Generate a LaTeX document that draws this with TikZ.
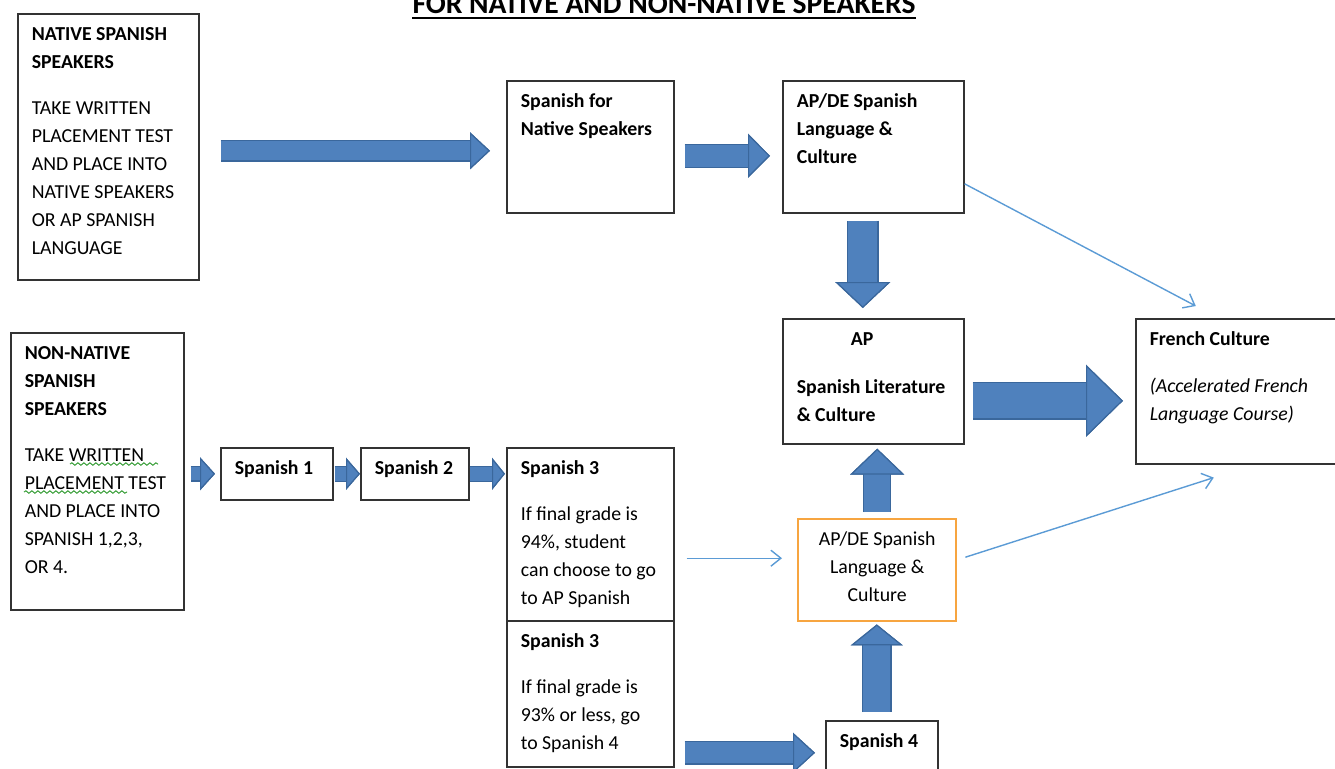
\documentclass[tikz,border=0pt]{standalone}
\usepackage{fontspec}
\setmainfont{Carlito}
\usetikzlibrary{arrows.meta,calc,decorations.pathmorphing}

\definecolor{arrfill}{HTML}{4F81BD}
\definecolor{arredge}{HTML}{3A679C}
\definecolor{thinblue}{HTML}{5B9BD5}
\definecolor{apricot}{HTML}{F7A540}
\definecolor{boxline}{HTML}{333333}
\definecolor{spellgreen}{HTML}{3CA03C}

% text of a box, top aligned: [column]{width}{height}{lines}
\newcommand{\boxtxt}[4][l]{\parbox[t][#3][t]{#2}{\ifx c#1\centering\fi\begin{tabular}[t]{@{}#1@{}}#4\end{tabular}}}

\begin{document}
\begin{tikzpicture}[
    x=0.5pt, y=-0.5pt,
    box/.style={draw=boxline, line width=0.8pt, anchor=north west, inner xsep=7pt, inner ysep=3.5pt, font=\fontsize{9.9}{14}\selectfont},
    hot/.style={box, draw=apricot, line width=1.2pt},
    heading/.style={anchor=base, inner sep=0pt, font=\bfseries\fontsize{14.8}{17}\selectfont},
    blk/.style n args={3}{draw=arrfill, line width=#1, -{Triangle[width=#2, length=#3, line width=0.6pt, color=arredge, fill=arrfill]},
        preaction={draw=arredge, line width=#1+1.2pt, -{Triangle[width=#2, length=#3, line width=0.6pt, color=arredge, fill=arrfill]}}},
    thin/.style={draw=thinblue, line width=0.7pt, -{Straight Barb[length=5pt, width=8pt]}},
    squiggle/.style={draw=spellgreen, line width=0.5pt, decorate, decoration={snake, amplitude=0.6pt, segment length=3pt}}
]
\useasboundingbox (0,0) rectangle (1335,768);

% Title
\node[heading] (ttl) at (664,13) {FOR NATIVE AND NON-NATIVE SPEAKERS};
\draw[line width=1pt] ([yshift=-2.5pt]ttl.base west) -- ([yshift=-2.5pt]ttl.base east);

% Native speakers row
\node[box] (natv) at (17,13) {\boxtxt{76.5pt}{126pt}{\textbf{NATIVE SPANISH}\\ \textbf{SPEAKERS}\\[9pt] TAKE WRITTEN\\ PLACEMENT TEST\\ AND PLACE INTO\\ NATIVE SPEAKERS\\ OR AP SPANISH\\ LANGUAGE}};
\node[box] (spnat) at (506,80) {\boxtxt{69.5pt}{59pt}{\textbf{Spanish for}\\ \textbf{Native Speakers}}};
\node[box] (apdetop) at (782,80) {\boxtxt{76.5pt}{59pt}{\textbf{AP/DE Spanish}\\ \textbf{Language \&}\\ \textbf{Culture}}};

% AP and French
\node[box] (aplit) at (782,318) {\boxtxt{76.5pt}{55.5pt}{\hspace*{27pt}\textbf{AP}\\[10pt] \textbf{Spanish Literature}\\ \textbf{\& Culture}}};
\node[box] (french) at (1135,318) {\boxtxt{96pt}{65.5pt}{\textbf{French Culture}\\[9.5pt] \textit{(Accelerated French}\\ \textit{Language Course)}}};

% Non-native speakers row
\node[box] (nonnat) at (10,332) {\boxtxt{72.5pt}{131.5pt}{\textbf{NON-NATIVE}\\ \textbf{SPANISH}\\ \textbf{SPEAKERS}\\[9pt] TAKE WRITTEN\\ PLACEMENT TEST\\ AND PLACE INTO\\ SPANISH 1,2,3,\\ OR 4.}};
\node[box] (span1) at (220,447) {\boxtxt{42pt}{19pt}{\textbf{Spanish 1}}};
\node[box] (span2) at (360,447) {\boxtxt{40pt}{19pt}{\textbf{Spanish 2}}};
\node[box] (span3a) at (506,447) {\boxtxt{69.5pt}{79.5pt}{\textbf{Spanish 3}\\[9pt] If final grade is\\ 94\%, student\\ can choose to go\\ to AP Spanish}};
\node[box] (span3b) at (506,620) {\boxtxt{69.5pt}{66pt}{\textbf{Spanish 3}\\[9pt] If final grade is\\ 93\% or less, go\\ to Spanish 4}};
\node[hot] (apdeor) at (797,518) {\boxtxt[c]{65pt}{44pt}{AP/DE Spanish\\ Language \&\\ Culture}};
\node[box] (span4) at (825,720) {\boxtxt{42pt}{25pt}{\textbf{Spanish 4}}};

% spell check marks
\draw[squiggle] ([shift={(30pt,-66pt)}]nonnat.north west) -- ++(88,0);
\draw[squiggle] ([shift={(7pt,-80pt)}]nonnat.north west) -- ++(103,0);

% Block arrows
\draw[blk={9.5pt}{18.5pt}{10pt}, shorten <=10.5pt, shorten >=8pt] ([yshift=-2pt]natv.east) -- ([yshift=-2pt]natv.east -| spnat.west);
\draw[blk={11pt}{22pt}{11pt}, shorten <=5pt, shorten >=6pt] ([yshift=-4.5pt]spnat.east) -- ([yshift=-4.5pt]spnat.east -| apdetop.west);
\draw[blk={14.5pt}{27.5pt}{13pt}, shorten <=3.5pt, shorten >=5pt] ([xshift=-5.25pt]apdetop.south) -- ([xshift=-5.25pt]apdetop.south |- aplit.north);
\draw[blk={17.5pt}{36pt}{18.5pt}, shorten <=4pt, shorten >=6pt] ([yshift=-9.75pt]aplit.east) -- ([yshift=-9.75pt]aplit.east -| french.west);
\draw[blk={13pt}{27pt}{13pt}, shorten <=3pt, shorten >=2pt] (apdeor.north) -- (apdeor.north |- aplit.south);
\draw[blk={13.5pt}{26pt}{10.5pt}, shorten <=4pt, shorten >=1pt] ([xshift=-2.5pt]span4.north) -- ([xshift=-2.5pt]span4.north |- apdeor.south);
\draw[blk={10.5pt}{20pt}{11pt}, shorten <=5pt, shorten >=5pt] (span3b.east |- span4.west) -- (span4.west);
\draw[blk={6.5pt}{16.5pt}{7.5pt}, shorten <=3pt, shorten >=2.5pt] (nonnat.east |- span1.west) -- (span1.west);
\draw[blk={7pt}{16pt}{7pt}, shorten <=0.5pt] (span1.east) -- (span2.west);
\draw[blk={7pt}{16pt}{6.5pt}, shorten >=0.5pt] (span2.east) -- (span2.east -| span3a.west);

% Thin arrows
\draw[thin] ([yshift=-18.5pt]apdetop.east) -- ([shift={(-25pt,6pt)}]french.north);
\draw[thin, shorten <=6pt, shorten >=7.5pt] ([yshift=6pt]apdeor.west -| span3a.east) -- ([yshift=6pt]apdeor.west);
\draw[thin] ([shift={(4pt,6.5pt)}]apdeor.east) -- ([shift={(-16pt,-6.5pt)}]french.south);

\end{tikzpicture}
\end{document}
